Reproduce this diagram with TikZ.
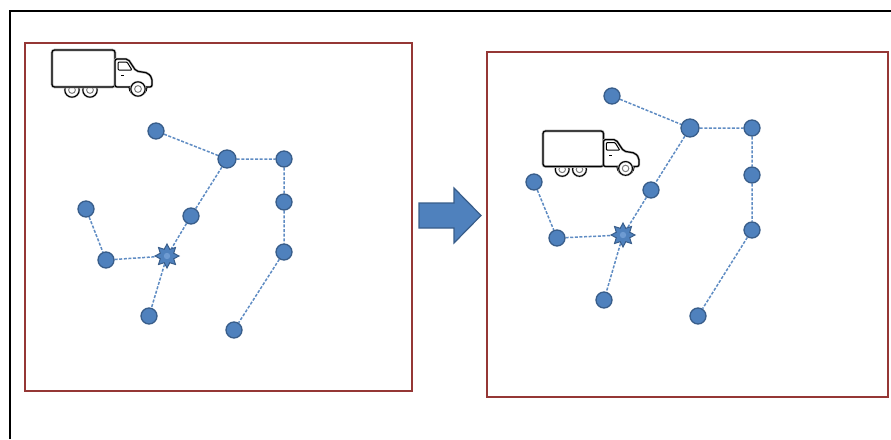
\documentclass[tikz,border=0pt]{standalone}
\usetikzlibrary{shapes.geometric,backgrounds}
\definecolor{nodeblue}{RGB}{79,129,189}
\definecolor{nodeedge}{RGB}{56,93,138}
\definecolor{nodelight}{RGB}{110,155,210}
\definecolor{boxred}{RGB}{149,55,53}
\definecolor{linkblue}{RGB}{95,140,195}
\tikzset{
  site/.style={circle, fill=nodeblue, draw=nodeedge, line width=1.3pt, minimum size=16pt, inner sep=0pt},
  bigsite/.style={site, minimum size=18pt},
  depot/.style={star, star points=8, star point ratio=1.65, minimum size=24pt, inner sep=0pt,
    draw=nodeedge, line width=1pt, fill=nodeblue},
  link/.style={draw=linkblue, line width=1.5pt, dash pattern=on 3pt off 1.6pt},
  panel/.style={draw=boxred, line width=2.4pt},
  wheel/.style={gray!55, line width=2pt, fill=white},
  truck/.pic={
    % rear wheels, partly hidden by the cargo box
    \foreach \wx in {20,38} {
      \draw[wheel] (\wx,40) circle (7.2);
      \draw[black, line width=1pt] (\wx,40) circle (7.2);
      \draw[gray, line width=1pt] (\wx,40) circle (3.4);
    }
    % cargo box
    \draw[gray!60, line width=2.6pt, rounded corners=2.5pt, fill=white] (0,0) rectangle (63,37);
    \draw[black, line width=1.2pt, rounded corners=2.5pt] (0,0) rectangle (63,37);
    % cab
    \draw[gray!60, line width=2.4pt, fill=white, rounded corners=2pt]
      (63,9) -- (76,9) -- (84,21) -- (96,23) -- (100,28) -- (100,37) -- (63,37) -- cycle;
    \draw[black, line width=1.2pt, rounded corners=2pt]
      (63,9) -- (76,9) -- (84,21) -- (96,23) -- (100,28) -- (100,37) -- (63,37) -- cycle;
    \draw[black, line width=1pt, rounded corners=1pt] (66,12) -- (75,12) -- (80,20) -- (66,20) -- cycle;
    \draw[black, line width=1pt] (69,25) -- (72,25);
    % front wheel with fender
    \draw[black, line width=1.1pt, fill=white] (77,37) arc (180:0:9);
    \draw[wheel] (86,39) circle (7.2);
    \draw[black, line width=1pt] (86,39) circle (7.2);
    \draw[gray, line width=1pt] (86,39) circle (3.4);
  }
}
\begin{document}
\begin{tikzpicture}[x=1pt, y=-1pt]
\useasboundingbox (0,0) rectangle (891,439);

% outer frame
\draw[black, line width=2.8pt] (10,439) -- (10,11) -- (891,11);

% panels
\draw[panel] (25,43) rectangle (412,391);
\draw[panel] (487,52) rectangle (888,397);

% left panel: sites and depot
\node[site]    (a1) at (156,131) {};
\node[bigsite] (a2) at (227,159) {};
\node[site]    (a3) at (284,159) {};
\node[site]    (a4) at (284,202) {};
\node[site]    (a5) at (284,252) {};
\node[site]    (a6) at (234,330) {};
\node[site]    (a7) at (86,209) {};
\node[site]    (a8) at (106,260) {};
\node[depot]   (a9) at (167,256) {};
\node[site]    (a10) at (191,216) {};
\node[site]    (a11) at (149,316) {};

% right panel: sites and depot
\node[site]    (b1) at (612,96) {};
\node[bigsite] (b2) at (690,128) {};
\node[site]    (b3) at (752,128) {};
\node[site]    (b4) at (752,175) {};
\node[site]    (b5) at (752,230) {};
\node[site]    (b6) at (698,316) {};
\node[site]    (b7) at (534,182) {};
\node[site]    (b8) at (557,238) {};
\node[depot]   (b9) at (623,235) {};
\node[site]    (b10) at (651,190) {};
\node[site]    (b11) at (604,300) {};

% depot centres
\fill[nodelight] (a9) circle (3.2);
\fill[nodelight] (b9) circle (3.2);

% routes, behind the sites
\begin{scope}[on background layer]
\foreach \p in {a,b} {
  \path[link] (\p1) -- (\p2) -- (\p3) -- (\p4) -- (\p5) -- (\p6);
  \path[link] (\p2) -- (\p10) -- (\p9) -- (\p11);
  \path[link] (\p7) -- (\p8) -- (\p9);
}
\end{scope}

% trucks
\pic at (52,50) {truck};
\pic[scale=0.96] at (543,131) {truck};

% transition arrow
\draw[fill=nodeblue, draw=nodeedge, line width=1.2pt, line join=miter]
  (419,203) -- (454,203) -- (454,188) -- (481,215.5) -- (454,243) -- (454,228) -- (419,228) -- cycle;
\end{tikzpicture}
\end{document}
